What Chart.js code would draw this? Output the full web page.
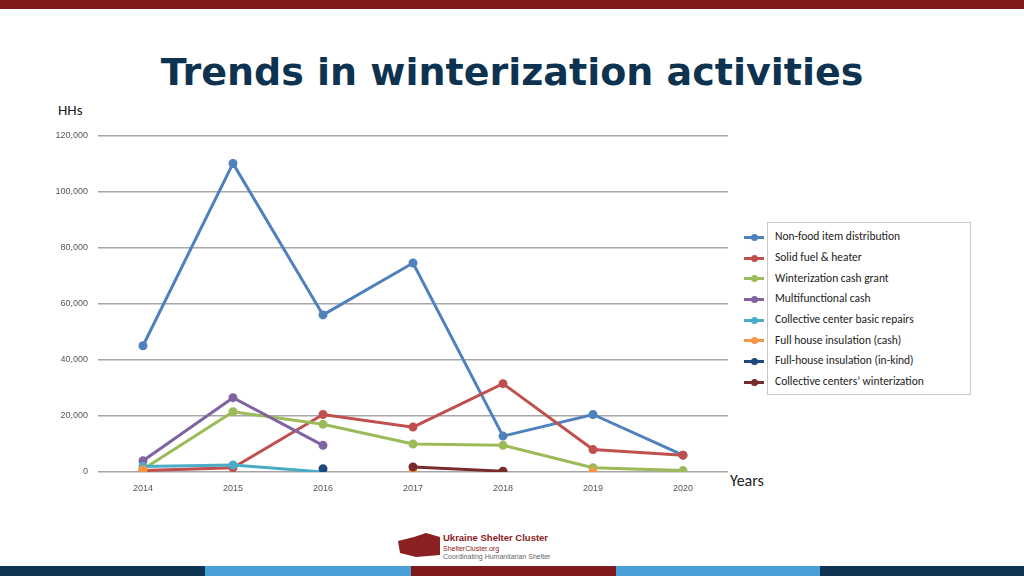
<!DOCTYPE html>
<html>
<head>
<meta charset="UTF-8">
<script src="https://cdn.jsdelivr.net/npm/chart.js"></script>
<style>
  body { margin:0; width:1024px; height:576px; position:relative; background:#fff; font-family:Calibri, "Liberation Sans", Arial, sans-serif; overflow:hidden; }
  .topbar { position:absolute; left:0; top:0; width:1024px; height:9px; background:#7f1a1c; }
  .bot { position:absolute; top:566px; height:10px; }
  h1 { position:absolute; top:50px; left:0; width:1024px; margin:0; text-align:center; font:bold 38px "DejaVu Sans", Arial, sans-serif; color:#0d3350; }
  .hh { position:absolute; left:58px; top:101px; font-size:15px; color:#222; }
  .yr { position:absolute; left:730px; top:471px; font-size:16px; color:#222; }
  #wrap { position:absolute; left:0; top:120px; width:740px; height:380px; }
  #legend { position:absolute; left:767px; top:222px; width:204px; height:173px; border:1px solid #c8c8c8; font-size:11.5px; color:#222; padding-top:3px; box-sizing:border-box; }
  .li { height:20.7px; display:flex; align-items:center; position:relative; padding-left:7px; }
  .sw { position:absolute; left:-24px; top:10px; width:20px; height:3px; }
  .dot { position:absolute; left:7px; top:-2px; width:7px; height:7px; border-radius:50%; }
  .logo { position:absolute; left:396px; top:531px; }
  .lt { position:absolute; left:443px; top:533px; font-family:"Liberation Sans", Arial; line-height:1; }
</style>
</head>
<body>
<div class="topbar"></div>
<div class="bot" style="left:0;width:205px;background:#0e3553"></div>
<div class="bot" style="left:205px;width:206px;background:#4a9fd6"></div>
<div class="bot" style="left:411px;width:205px;background:#7f1a1c"></div>
<div class="bot" style="left:616px;width:204px;background:#4a9fd6"></div>
<div class="bot" style="left:820px;width:204px;background:#0e3553"></div>
<h1>Trends in winterization activities</h1>
<div class="hh">HHs</div>
<div class="yr">Years</div>
<div id="wrap"><canvas id="c"></canvas></div>
<div id="legend"></div>
<svg class="logo" width="46" height="28"><path d="M2 10 L18 6 L30 2 L44 6 L44 24 L20 26 L4 22 Z" fill="#8b2022"/></svg>
<div class="lt"><div style="font-weight:bold;font-size:9.5px;color:#8b2022">Ukraine Shelter Cluster</div><div style="font-size:7px;color:#8b2022;margin-top:2px">ShelterCluster.org</div><div style="font-size:7px;color:#666;margin-top:1px">Coordinating Humanitarian Shelter</div></div>
<script>
const years = ['2014','2015','2016','2017','2018','2019','2020'];
const seriesNames = ['Non-food item distribution','Solid fuel & heater','Winterization cash grant','Multifunctional cash','Collective center basic repairs','Full house insulation (cash)','Full-house insulation (in-kind)','Collective centers\u2019 winterization'];
const seriesColors = ['#4f81bd','#c0504d','#9bbb59','#8064a2','#4bacc6','#f79646','#1f497d','#772c2a'];
const nfi = [45000,110000,56000,74500,12800,20500,6000];
const solidFuel = [500,1500,20500,16000,31500,8000,6000];
const cashGrant = [1000,21500,17000,10000,9500,1500,500];
const multiCash = [4000,26500,9500,null,null,null,null];
const ccRepairs = [2000,2500,0,null,null,null,null];
const insulCash = [800,null,null,0,null,0,null];
const insulKind = [null,null,1200,null,null,null,null];
const ccWinter = [null,null,null,1800,300,null,null];
const seriesData = [nfi,solidFuel,cashGrant,multiCash,ccRepairs,insulCash,insulKind,ccWinter];

const order = [7,6,5,4,3,2,1,0];
new Chart(document.getElementById('c'), {
  type:'line',
  data:{ labels:years, datasets: order.map(i=>({label:seriesNames[i],data:seriesData[i],borderColor:seriesColors[i],backgroundColor:seriesColors[i],borderWidth:3,pointRadius:3,pointHoverRadius:3,tension:0})) },
  options:{
    responsive:true, maintainAspectRatio:false, animation:false,
    layout:{padding:{top:8,right:12}},
    plugins:{legend:{display:false},tooltip:{enabled:false}},
    scales:{
      x:{offset:true,grid:{display:false},border:{display:false},ticks:{color:'#555',font:{size:9}},afterFit:s=>{s.height=28;}},
      y:{min:0,max:120000,ticks:{stepSize:20000,color:'#555',font:{size:9},padding:10,callback:v=>v.toLocaleString('en-US')},grid:{color:'#a6a6a6',lineWidth:1.5,drawTicks:false},border:{display:false},afterFit:s=>{s.width=98;}}
    }
  }
});
const lg=document.getElementById('legend');
seriesNames.forEach((n,i)=>{
  const d=document.createElement('div');
  d.className='li';
  d.innerHTML='<span class="sw" style="background:'+seriesColors[i]+'"><span class="dot" style="background:'+seriesColors[i]+'"></span></span>'+n;
  lg.appendChild(d);
});
</script>
</body>
</html>
